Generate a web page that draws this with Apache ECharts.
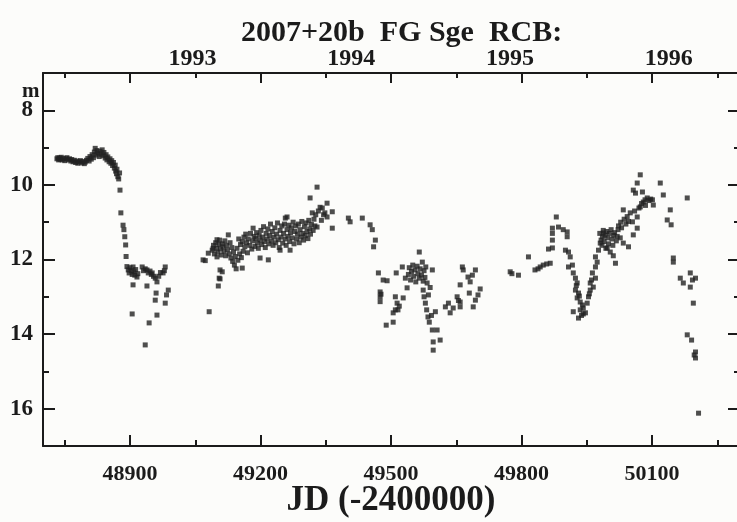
<!DOCTYPE html>
<html>
<head>
<meta charset="utf-8">
<title>FG Sge light curve</title>
<script src="https://cdn.jsdelivr.net/npm/echarts@6/dist/echarts.min.js"></script>
<style>
  html, body { margin: 0; padding: 0; background: #fcfcfa; }
  #chart { width: 737px; height: 522px; }
</style>
</head>
<body>
<div id="chart"></div>
<script>
// tick positions (JD - 2400000) and magnitudes
const jdMajor = [48900, 49200, 49500, 49800, 50100];
const jdMinor = [48750, 49050, 49350, 49650, 49950, 50250];
const yearNames = ['1993', '1994', '1995', '1996'];
const yearStartJD = [48988.5, 49353.5, 49718.5, 50083.5];
const magMajor = [8, 10, 12, 14, 16];
const magMinor = [9, 11, 13, 15];

const maximum1992 = [
  [48732,9.30],[48734,9.27],[48736,9.33],[48738,9.28],[48740,9.31],[48742,9.26],[48744,9.33],[48747,9.29],
  [48750,9.35],[48753,9.30],[48755,9.27],[48758,9.33],[48761,9.30],[48764,9.36],[48766,9.32],[48769,9.38],
  [48772,9.34],[48775,9.40],[48778,9.36],[48780,9.42],[48783,9.38],[48786,9.35],[48789,9.41],[48792,9.37],
  [48795,9.43],[48797,9.39],[48800,9.34],[48803,9.29],[48806,9.36],[48808,9.24],[48811,9.31],[48813,9.19],
  [48816,9.27],[48818,9.12],[48820,9.02],[48822,9.20],[48824,9.08],[48826,9.15],[48829,9.24],[48831,9.10],
  [48834,9.18],[48836,9.06],[48838,9.22],[48840,9.13],[48843,9.28],[48845,9.19],[48847,9.33],[48849,9.25],
  [48852,9.38],[48854,9.30],[48856,9.42],[48858,9.35],[48860,9.48],[48862,9.40],[48864,9.55],[48866,9.47],
  [48867,9.63],[48869,9.70],[48870,9.58],[48872,9.78],[48874,9.84],[48876,9.68]
];
const fade1992 = [
  [48877,10.14],[48879,10.75],[48884,11.08],[48886,11.20],[48888,11.39],[48890,11.61],[48891,11.92],
  [48893,12.19],[48896,12.28],[48898,12.36],[48900,12.22],[48903,12.30],[48905,12.40],[48907,12.20],
  [48909,12.33],[48911,12.42],[48913,12.27],[48916,12.47],[48918,12.38],[48907,12.68],[48905,13.46],
  [48928,12.20],[48931,12.30],[48935,12.25],[48939,12.28],[48942,12.36],[48946,12.31],[48949,12.40],
  [48951,12.36],[48954,12.45],[48958,12.50],[48962,12.60],[48939,12.71],[48944,13.70],[48935,14.29],
  [48960,12.90],[48958,13.09],[48962,13.49],[48976,12.36],[48981,12.20],[48979,12.30],[48988,12.82],
  [48984,12.95],[48981,13.17],[48966,12.45],[48970,12.35]
];
const recovery1993 = [
  [49068,12.01],[49073,12.03],[49080,11.83],[49082,13.40],[49091,11.70],[49100,11.47],[49100,11.93],
  [49103,12.71],[49105,12.50],[49107,12.28],[49107,12.52],[49112,12.33],
  [49089,11.75],[49092,11.62],[49094,11.85],[49097,11.55],[49099,11.70],[49102,11.80],[49104,11.60],
  [49106,11.48],[49108,11.72],[49110,11.88],[49112,11.58],[49114,11.66],[49116,11.78],[49118,11.50],
  [49120,11.90],[49122,11.62],[49124,11.74],[49126,11.34],[49128,11.85],[49130,11.55],[49132,11.96],
  [49134,11.68],[49136,12.05],[49138,11.80],[49140,12.15],[49142,11.92],[49144,12.25],[49146,11.70],
  [49148,12.02],[49150,11.45],[49152,11.85],[49154,11.60],[49156,11.95],[49158,11.52],[49158,12.23],
  [49160,11.78],[49162,11.40],[49164,11.66],[49166,11.32],[49168,11.55],[49170,11.82]
];
const plateau1993 = [
  [49172,11.45],[49175,11.62],[49177,11.30],[49180,11.72],[49182,11.50],[49183,11.16],[49185,11.38],
  [49187,11.65],[49189,11.44],[49191,11.28],[49193,11.56],[49195,11.70],[49197,11.35],[49199,11.96],
  [49199,11.48],[49201,11.22],[49203,11.60],[49205,11.40],[49207,11.12],[49209,11.52],[49211,11.68],
  [49213,11.30],[49215,11.45],[49217,11.18],[49218,12.01],[49219,11.58],[49221,11.36],[49223,11.05],
  [49225,11.50],[49227,11.25],[49229,11.62],[49231,11.40],[49233,11.15],[49235,11.55],[49237,11.32],
  [49239,11.02],[49241,11.47],[49243,11.68],[49245,11.75],[49245,11.22],[49247,11.40],[49249,11.10],
  [49251,11.56],[49253,11.30],[49255,11.05],[49257,10.89],[49257,11.45],[49259,11.62],[49261,10.86],
  [49261,11.20],[49263,11.38],[49265,11.08],[49267,11.52],[49268,11.75],[49269,11.28],[49271,11.15],
  [49273,11.42],[49275,11.00],[49277,11.58],[49279,11.25],[49281,11.10],[49283,11.45],[49285,11.32],
  [49287,11.05],[49289,11.55],[49291,11.20],[49293,11.40],[49295,10.98],[49297,11.30],[49299,11.48],
  [49301,11.12],[49303,11.36],[49305,11.02],[49307,11.25],[49309,11.44],[49311,10.95],[49313,11.18],
  [49315,11.32],[49317,11.06],[49319,10.75],[49321,11.22],[49323,10.92],[49325,11.10],
  [49314,10.35],[49330,10.06],[49337,10.60],[49353,10.49],[49365,10.72],[49353,10.86],[49330,11.13],
  [49365,11.16],[49340,10.95],[49345,10.80],[49327,10.80],[49333,10.70],[49342,10.62],[49348,10.75]
];
const fade1994 = [
  [49402,10.89],[49406,10.99],[49434,10.89],[49452,11.07],[49457,11.20],[49464,11.48],[49460,11.66],
  [49471,12.36],[49482,12.55],[49491,12.57],[49475,12.87],[49475,13.00],[49475,13.13],[49477,12.93],
  [49510,13.00],[49514,13.17],[49510,13.35],[49505,13.43],[49489,13.76],[49505,13.68],[49516,13.35],
  [49512,12.36],[49526,12.20],[49533,12.50],[49537,12.76],[49528,13.03],[49519,13.25],
  [49540,12.40],[49542,12.22],[49545,12.55],[49547,12.32],[49550,12.15],[49552,12.45],[49555,12.28],
  [49557,12.60],[49560,12.18],[49562,12.38],[49565,11.80],[49565,12.50],[49567,12.25],[49570,12.42],
  [49572,12.07],[49574,12.58],[49576,12.30],[49578,12.48],[49580,12.20],[49583,12.63],[49595,12.28],
  [49574,12.82],[49576,13.00],[49579,13.17],[49582,13.35],[49585,13.54],[49588,13.68],[49590,12.75],
  [49586,12.95],[49602,13.40],[49595,13.89],[49606,13.89],[49597,14.21],[49613,14.16],[49597,14.43],
  [49593,13.50],[49625,13.27],[49636,13.43],[49643,13.30],[49632,13.17],[49652,13.00],[49659,13.27],
  [49659,12.68],[49664,12.20],[49666,12.28],[49677,12.47],[49687,12.42],[49694,12.28],[49682,12.60],
  [49680,12.90],[49694,13.09],[49689,13.27],[49705,12.79],[49659,13.14],[49655,13.10],[49700,12.95]
];
const minimum1995 = [
  [49774,12.33],[49793,12.42],[49778,12.38],[49816,11.93],
  [49831,12.28],[49843,12.20],[49850,12.15],[49866,12.10],[49838,12.25],[49858,12.12],
  [49862,11.72],[49871,11.69],[49871,11.48],[49871,11.16],[49871,11.30],[49880,10.86],[49885,11.13],
  [49896,11.20],[49905,11.26],[49905,11.39],[49901,11.75],[49908,11.80],[49912,11.93],[49917,12.15],
  [49908,12.20],[49919,12.36],[49924,12.50],[49928,12.63],[49924,12.82],[49931,12.90],[49928,13.03],
  [49935,13.14],[49940,13.22],[49942,13.30],[49935,13.35],[49947,13.43],[49931,13.57],[49919,13.40],
  [49942,13.46],[49938,13.50],[49926,12.70],[49933,12.98],
  [49951,13.17],[49954,13.00],[49958,12.82],[49958,12.63],[49965,12.74],[49970,12.50],[49963,12.36],
  [49970,12.20],[49974,12.07],[49970,11.93],[49977,11.75],[49981,11.56],[49986,11.39],[49988,11.29],
  [49956,12.92],[49961,12.55]
];
const rise1995 = [
  [49980,11.30],[49983,11.48],[49985,11.62],[49988,11.22],[49990,11.52],[49992,11.35],[49994,11.70],
  [49996,11.25],[49998,11.42],[50000,11.58],[50002,11.30],[50006,11.20],[50008,11.45],[50010,11.62],
  [50012,11.35],[50014,11.28],[50018,11.50],[50020,11.38],[50022,11.20],[49997,11.69],[50004,11.80],
  [50016,12.10],[50027,11.42],[50034,11.56],[50046,11.66],[50011,11.90],
  [50023,11.10],[50028,11.00],[50030,11.15],[50034,10.67],[50036,10.92],[50040,11.05],[50043,10.85],
  [50046,10.98],[50050,10.75],[50055,10.99],[50057,11.34],[50060,10.70],[50066,10.86],[50066,11.16],
  [50070,10.62],[50073,10.59],[50076,10.50],[50080,10.46],[50084,10.40],[50089,10.35],[50093,10.42],
  [50097,10.38],[50101,10.40],[50103,10.54],[50085,10.55],[50078,10.19],
  [50057,10.14],[50066,9.95],[50073,9.73],[50062,10.22]
];
const fade1996 = [
  [50119,9.95],[50126,10.27],[50142,10.67],[50135,10.94],[50144,11.07],[50181,10.35],
  [50149,11.96],[50149,12.07],[50165,12.50],[50172,12.63],[50188,12.36],[50193,12.55],[50188,12.74],
  [50200,12.50],[50195,13.17],[50181,14.02],[50191,14.16],[50200,14.48],[50200,14.64],[50197,14.56],
  [50207,16.12]
];

const ink = '#1b1b1b';
const serif = '"Liberation Serif", "DejaVu Serif", serif';

const chart = echarts.init(document.getElementById('chart'));

function xAxisBase(position) {
  return {
    type: 'value',
    position: position,
    min: 48700,
    max: 50300,
    splitLine: { show: false },
    axisLine: { show: false, onZero: false },
    axisLabel: { show: false }
  };
}

function yAxisBase(position) {
  return {
    type: 'value',
    position: position,
    min: 7,
    max: 17,
    inverse: true,
    splitLine: { show: false },
    axisLine: { show: false, onZero: false },
    axisLabel: { show: false }
  };
}

const option = {
  animation: false,
  backgroundColor: '#fcfcfa',
  title: {
    text: '2007+20b  FG Sge  RCB:',
    left: 236,
    top: 13,
    textStyle: { fontFamily: serif, fontWeight: 'bold', fontSize: 30, color: ink }
  },
  graphic: [{
    type: 'text',
    left: 22,
    top: 81,
    style: { text: 'm', font: 'bold 21px ' + serif, fill: ink }
  }],
  // keep the plot box fixed; the right frame sits just past the page edge
  grid: { left: 43, top: 73, width: 696, height: 373, containLabel: false, outerBoundsMode: 'none' },
  xAxis: [
    Object.assign(xAxisBase('bottom'), {
      axisLine: { show: true, onZero: false, lineStyle: { color: ink, width: 2 } },
      axisTick: { inside: true, length: 11, customValues: jdMajor, lineStyle: { color: ink, width: 2 } },
      axisLabel: {
        show: true, customValues: jdMajor, margin: 17,
        formatter: function (v) { return String(v); },
        fontFamily: serif, fontWeight: 'bold', fontSize: 22, color: ink
      },
      name: 'JD (-2400000)',
      nameLocation: 'middle',
      nameGap: 37,
      nameMoveOverlap: false,
      nameTextStyle: { fontFamily: serif, fontWeight: 'bold', fontSize: 35, color: ink }
    }),
    Object.assign(xAxisBase('bottom'), {
      axisTick: { inside: true, length: 6, customValues: jdMinor, lineStyle: { color: ink, width: 2 } }
    }),
    Object.assign(xAxisBase('top'), {
      axisLine: { show: true, onZero: false, lineStyle: { color: ink, width: 2 } },
      axisTick: { inside: true, length: 10, customValues: jdMajor, lineStyle: { color: ink, width: 2 } },
      axisLabel: {
        show: true, customValues: yearStartJD, margin: 2, align: 'left',
        formatter: function (v) {
          const i = yearStartJD.indexOf(v);
          return i >= 0 ? yearNames[i] : '';
        },
        fontFamily: serif, fontWeight: 'bold', fontSize: 24, color: ink
      }
    }),
    Object.assign(xAxisBase('top'), {
      axisTick: { inside: true, length: 5, customValues: jdMinor, lineStyle: { color: ink, width: 2 } }
    })
  ],
  yAxis: [
    Object.assign(yAxisBase('left'), {
      axisLine: { show: true, onZero: false, lineStyle: { color: ink, width: 2 } },
      axisTick: { inside: true, length: 12, customValues: magMajor, lineStyle: { color: ink, width: 2 } },
      axisLabel: {
        show: true, customValues: magMajor, margin: 10,
        formatter: function (v) { return String(v); },
        fontFamily: serif, fontWeight: 'bold', fontSize: 23, color: ink
      }
    }),
    Object.assign(yAxisBase('left'), {
      axisTick: { inside: true, length: 6, customValues: magMinor, lineStyle: { color: ink, width: 2 } }
    }),
    Object.assign(yAxisBase('right'), {
      axisLine: { show: true, onZero: false, lineStyle: { color: ink, width: 2 } },
      axisTick: { inside: true, length: 11, customValues: magMajor, lineStyle: { color: ink, width: 2 } }
    }),
    Object.assign(yAxisBase('right'), {
      axisTick: { inside: true, length: 5, customValues: magMinor, lineStyle: { color: ink, width: 2 } }
    })
  ],
  series: [{
    type: 'scatter',
    xAxisIndex: 0,
    yAxisIndex: 0,
    symbol: 'rect',
    symbolSize: 5,
    itemStyle: { color: '#222' },
    data: [].concat(maximum1992, fade1992, recovery1993, plateau1993, fade1994, minimum1995, rise1995, fade1996)
  }]
};

chart.setOption(option);
</script>
</body>
</html>
